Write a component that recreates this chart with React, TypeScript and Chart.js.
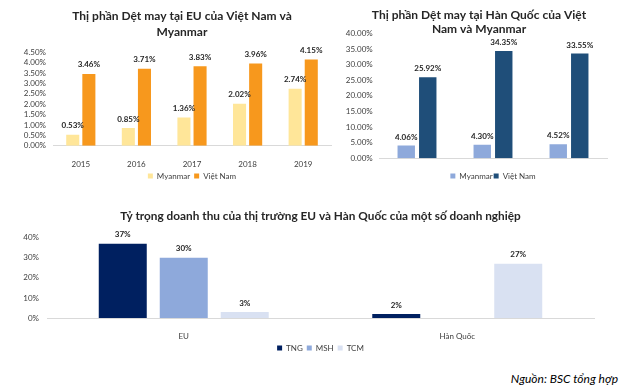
import React, { useEffect, useRef } from "react";
import { Chart, registerables } from "chart.js";

Chart.register(...registerables);

// ---------- data ----------
const euYears = ["2015", "2016", "2017", "2018", "2019"];
const euMyanmar = [0.53, 0.85, 1.36, 2.02, 2.74];
const euVietnam = [3.46, 3.71, 3.83, 3.96, 4.15];
const euTitle = ["Thị phần Dệt may tại EU của Việt Nam và", "Myanmar"];

const krYears = ["2016", "2018", "2019"];
const krMyanmar = [4.06, 4.3, 4.52];
const krVietnam = [25.92, 34.35, 33.55];
const krTitle = ["Thị phần Dệt may tại Hàn Quốc của Việt", "Nam và Myanmar"];

const bizMarkets = ["EU", "Hàn Quốc"];
const bizTNG = [37, 2];
const bizMSH: (number | null)[] = [30, null];
const bizTCM = [3, 27];
const bizTitle = "Tỷ trọng doanh thu của thị trường EU và Hàn Quốc của một số doanh nghiệp";

const FONT = "Lato, 'Liberation Sans', sans-serif";
const TICK = "#404040";
const DARK = "#262626";

function makeLabelPlugin(format: (v: number) => string, size: number, offset: number) {
  return {
    id: "valueLabels",
    afterDatasetsDraw(chart: any) {
      const ctx = chart.ctx;
      ctx.save();
      ctx.font = `bold ${size}px ${FONT}`;
      ctx.fillStyle = DARK;
      ctx.textAlign = "center";
      ctx.textBaseline = "middle";
      chart.data.datasets.forEach((ds: any, i: number) => {
        const meta = chart.getDatasetMeta(i);
        meta.data.forEach((el: any, j: number) => {
          const v = ds.data[j];
          if (v == null) return;
          ctx.fillText(format(v), el.x, el.y - offset);
        });
      });
      ctx.restore();
    },
  };
}

function makeHeadlinePlugin(lines: string[], cx: number, y0: number, gap: number) {
  return {
    id: "headline",
    afterDraw(chart: any) {
      const ctx = chart.ctx;
      ctx.save();
      ctx.font = `bold 12px ${FONT}`;
      ctx.fillStyle = DARK;
      ctx.textAlign = "center";
      ctx.textBaseline = "middle";
      lines.forEach((t, i) => ctx.fillText(t, cx, y0 + i * gap));
      ctx.restore();
    },
  };
}

function ChartBox(props: { left: number; top: number; width: number; height: number; make: () => any }) {
  const ref = useRef<HTMLCanvasElement | null>(null);
  useEffect(() => {
    if (!ref.current) return;
    const chart = new Chart(ref.current, props.make());
    return () => chart.destroy();
  }, []);
  return (
    <canvas
      ref={ref}
      width={props.width}
      height={props.height}
      style={{ position: "absolute", left: props.left, top: props.top, width: props.width, height: props.height }}
    />
  );
}

const tickFont = { family: FONT, size: 8 };
const legendLabels = (padding: number) => ({
  boxWidth: 5,
  boxHeight: 5,
  padding,
  color: "#404040",
  font: { family: FONT, size: 8 },
});

function euConfig() {
  return {
    type: "bar",
    data: {
      labels: euYears,
      datasets: [
        { label: "Myanmar", data: euMyanmar, backgroundColor: "#FFE699", categoryPercentage: 0.58, barPercentage: 0.81 },
        { label: "Việt Nam", data: euVietnam, backgroundColor: "#F7981D", categoryPercentage: 0.58, barPercentage: 0.81 },
      ],
    },
    options: {
      animation: false,
      responsive: false,
      devicePixelRatio: 1,
      layout: { padding: { top: 52.3, right: 3, bottom: 0, left: 0 } },
      plugins: {
        title: { display: false },
        legend: { position: "bottom", fullSize: false, labels: legendLabels(4) },
        tooltip: { enabled: false },
      },
      scales: {
        x: {
          grid: { display: false },
          border: { display: true, color: "#D9D9D9" },
          ticks: { color: TICK, font: tickFont, padding: 5.5 },
          afterFit: (s: any) => { s.height = 22.3; },
        },
        y: {
          min: 0,
          max: 4.5,
          grid: { display: false, drawTicks: false },
          border: { display: false },
          ticks: {
            stepSize: 0.5,
            autoSkip: false,
            color: TICK,
            font: tickFont,
            padding: 7,
            callback: (v: any) => Number(v).toFixed(2) + "%",
          },
          afterFit: (s: any) => { s.width = 53; },
        },
      },
    },
    plugins: [makeLabelPlugin((v) => v.toFixed(2) + "%", 8, 9), makeHeadlinePlugin(euTitle, 182, 16, 16)],
  };
}

function krConfig() {
  return {
    type: "bar",
    data: {
      labels: krYears,
      datasets: [
        { label: "Myanmar", data: krMyanmar, backgroundColor: "#8EA9DB", categoryPercentage: 0.566, barPercentage: 0.81 },
        { label: "Việt Nam", data: krVietnam, backgroundColor: "#1F4E79", categoryPercentage: 0.566, barPercentage: 0.81 },
      ],
    },
    options: {
      animation: false,
      responsive: false,
      devicePixelRatio: 1,
      layout: { padding: { top: 33.3, right: 33, bottom: 0, left: 0 } },
      plugins: {
        title: { display: false },
        legend: { position: "bottom", fullSize: false, labels: legendLabels(1) },
        tooltip: { enabled: false },
      },
      scales: {
        x: {
          grid: { display: false },
          border: { display: true, color: "#D9D9D9" },
          ticks: { color: TICK, font: tickFont, padding: 4.9 },
          afterFit: (s: any) => { s.height = 12.7; },
        },
        y: {
          min: 0,
          max: 40,
          grid: { display: false, drawTicks: false },
          border: { display: false },
          ticks: {
            stepSize: 5,
            autoSkip: false,
            color: TICK,
            font: tickFont,
            padding: 6.3,
            callback: (v: any) => Number(v).toFixed(2) + "%",
          },
          afterFit: (s: any) => { s.width = 45; },
        },
      },
    },
    plugins: [makeLabelPlugin((v) => v.toFixed(2) + "%", 8, 8.5), makeHeadlinePlugin(krTitle, 145, 15, 14)],
  };
}

function bizConfig() {
  return {
    type: "bar",
    data: {
      labels: bizMarkets,
      datasets: [
        { label: "TNG", data: bizTNG, backgroundColor: "#002060", categoryPercentage: 0.669, barPercentage: 0.787 },
        { label: "MSH", data: bizMSH, backgroundColor: "#8EA9DB", categoryPercentage: 0.669, barPercentage: 0.787 },
        { label: "TCM", data: bizTCM, backgroundColor: "#D9E1F2", categoryPercentage: 0.669, barPercentage: 0.787 },
      ],
    },
    options: {
      animation: false,
      responsive: false,
      devicePixelRatio: 1,
      layout: { padding: { top: 0, right: 46, bottom: 0, left: 0 } },
      plugins: {
        title: {
          display: true,
          fullSize: false,
          text: bizTitle,
          color: DARK,
          font: { family: FONT, size: 11.8, weight: "bold", lineHeight: 1.2 },
          padding: { top: 9.4, bottom: 14.2 },
        },
        legend: { position: "bottom", fullSize: false, labels: legendLabels(4) },
        tooltip: { enabled: false },
      },
      scales: {
        x: {
          grid: { display: false },
          border: { display: true, color: "#D9D9D9" },
          ticks: { color: TICK, font: tickFont, padding: 5.5 },
          afterFit: (s: any) => { s.height = 22; },
        },
        y: {
          min: 0,
          max: 40,
          grid: { display: false, drawTicks: false },
          border: { display: false },
          ticks: {
            stepSize: 10,
            autoSkip: false,
            color: TICK,
            font: tickFont,
            padding: 8,
            callback: (v: any) => Number(v).toFixed(0) + "%",
          },
          afterFit: (s: any) => { s.width = 47; },
        },
      },
    },
    plugins: [makeLabelPlugin((v) => v.toFixed(0) + "%", 8, 9)],
  };
}

export default function App() {
  return (
    <div
      style={{
        position: "fixed",
        left: 0,
        top: 0,
        width: 640,
        height: 389,
        background: "#ffffff",
        overflow: "hidden",
      }}
    >
      <ChartBox left={0} top={0} width={334} height={190} make={euConfig} />
      <ChartBox left={334} top={0} width={306} height={190} make={krConfig} />
      <ChartBox left={0} top={200} width={640} height={162} make={bizConfig} />
      <div
        style={{
          position: "absolute",
          right: 22,
          top: 371,
          fontFamily: FONT,
          fontStyle: "italic",
          fontSize: 12,
          lineHeight: "16px",
          color: "#000",
          whiteSpace: "nowrap",
        }}
      >
        Nguồn: BSC tổng hợp
      </div>
    </div>
  );
}
